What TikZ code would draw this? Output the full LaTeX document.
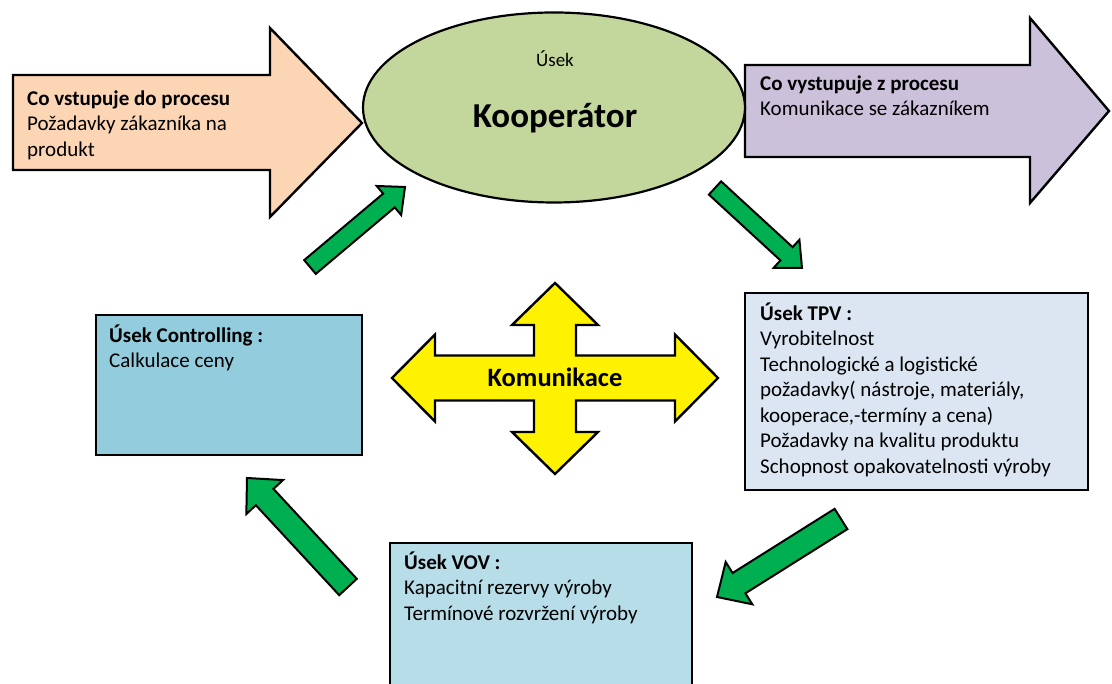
\documentclass[tikz,border=0pt]{standalone}
\usepackage{fontspec}
\setmainfont{Carlito}
\usetikzlibrary{calc,positioning,shapes.geometric}
\definecolor{peach}{HTML}{FCD5B5}
\definecolor{lilac}{HTML}{CCC1DA}
\definecolor{koopgreen}{HTML}{C3D69B}
\definecolor{tpvblue}{HTML}{DCE6F2}
\definecolor{ctrlblue}{HTML}{93CDDD}
\definecolor{vovblue}{HTML}{B7DDE8}
\definecolor{arrowgreen}{HTML}{00B050}
% block arrow: shaft half width, head half width, head length, tail, tip
\newcommand{\blockarrow}[5]{%
  \draw[greenarrow] ($(#4)!#1!90:(#5)$) -- ($($(#5)!#3!(#4)$)!#1!90:(#5)$) -- ($($(#5)!#3!(#4)$)!#2!90:(#5)$)
    -- (#5) -- ($($(#5)!#3!(#4)$)!#2!-90:(#5)$) -- ($($(#5)!#3!(#4)$)!#1!-90:(#5)$) -- ($(#4)!#1!-90:(#5)$) -- cycle;}

\begin{document}
\begin{tikzpicture}[x=1pt,y=1pt,
  txt/.style={font=\fontsize{21}{25.5}\selectfont, align=left, inner sep=0, anchor=north west},
  box/.style={draw, line width=2.6pt, inner sep=0, outer sep=0, anchor=south west},
  bigarrow/.style={draw, line width=2.4pt, line join=miter},
  greenarrow/.style={draw, fill=arrowgreen, line width=2pt, line join=miter}]
\useasboundingbox (0,0) rectangle (1112,684);
\clip (0,0) rectangle (1112,684);

\draw[bigarrow, fill=peach] (13,609) -- (270,609) -- (270,656) -- (362,561) -- (270,467) -- (270,514) -- (13,514) -- cycle;
\draw[bigarrow, fill=lilac] (745,619) -- (1030,619) -- (1030,666) -- (1109,573) -- (1030,481) -- (1030,527) -- (745,527) -- cycle;
\node[txt] (intxt) at (27,597) {\strut\textbf{Co vstupuje do procesu}\\Požadavky zákazníka na\\produkt};
\node[txt] (outtxt) at (760,612) {\strut\textbf{Co vystupuje z procesu}\\Komunikace se zákazníkem};

\node[ellipse, draw, fill=koopgreen, line width=2.2pt, inner sep=0, minimum width=382, minimum height=190] (koop) at (554,576.5) {};
\node[font=\fontsize{19}{22}\selectfont, anchor=base, inner sep=0] (usek) at (555,617) {Úsek};
\node[font=\fontsize{35}{40}\selectfont\bfseries, anchor=base, inner sep=0] (kooptxt) at (555,556) {Kooperátor};

\node[box, fill=tpvblue, minimum width=343, minimum height=197] (tpv) at (745,194) {};
\node[txt] (tpvtxt) at ($(tpv.north west)+(15,-9)$) {\strut\textbf{Úsek TPV :}\\Vyrobitelnost\\Technologické a logistické\\požadavky( nástroje, materiály,\\kooperace,-termíny a cena)\\Požadavky na kvalitu produktu\\Schopnost opakovatelnosti výroby};
\node[box, fill=ctrlblue, minimum width=266, minimum height=140] (ctrl) at (96,229) {};
\node[txt] (ctrltxt) at ($(ctrl.north west)+(13,-9)$) {\strut\textbf{Úsek Controlling :}\\Calkulace ceny};
\node[box, fill=vovblue, minimum width=302, minimum height=151] (vov) at (390,-10) {};
\node[txt] (vovtxt) at ($(vov.north west)+(14,-8)$) {\strut\textbf{Úsek VOV :}\\Kapacitní rezervy výroby\\Termínové rozvržení výroby};

% Komunikace cross
\draw[bigarrow, fill=yellow, shift={(555,306)}] (0,95) -- (43,53) -- (21,53) -- (21,22.5) -- (120,22.5) -- (120,43.5) -- (163,0)
  -- (120,-43.5) -- (120,-22.5) -- (21,-22.5) -- (21,-54) -- (43,-54) -- (0,-96) -- (-43,-54) -- (-21,-54) -- (-21,-22.5)
  -- (-120,-22.5) -- (-120,-43.5) -- (-163,0) -- (-120,43.5) -- (-120,22.5) -- (-21,22.5) -- (-21,53) -- (-43,53) -- cycle;
\node[font=\fontsize{26.5}{30}\selectfont\bfseries, anchor=base, inner sep=0] (komtxt) at (555,297) {Komunikace};

\coordinate (a1s) at (310,417); \coordinate (a1e) at (405,497);
\coordinate (a2s) at (715,496); \coordinate (a2e) at (802,416);
\coordinate (a3s) at (841,165); \coordinate (a3e) at (717,87);
\coordinate (a4s) at (348,97);  \coordinate (a4e) at (247,206);
\blockarrow{9pt}{19pt}{21pt}{a1s}{a1e}
\blockarrow{9pt}{19pt}{21pt}{a2s}{a2e}
\blockarrow{12pt}{25pt}{26pt}{a3s}{a3e}
\blockarrow{12pt}{25pt}{26pt}{a4s}{a4e}
\end{tikzpicture}
\end{document}
